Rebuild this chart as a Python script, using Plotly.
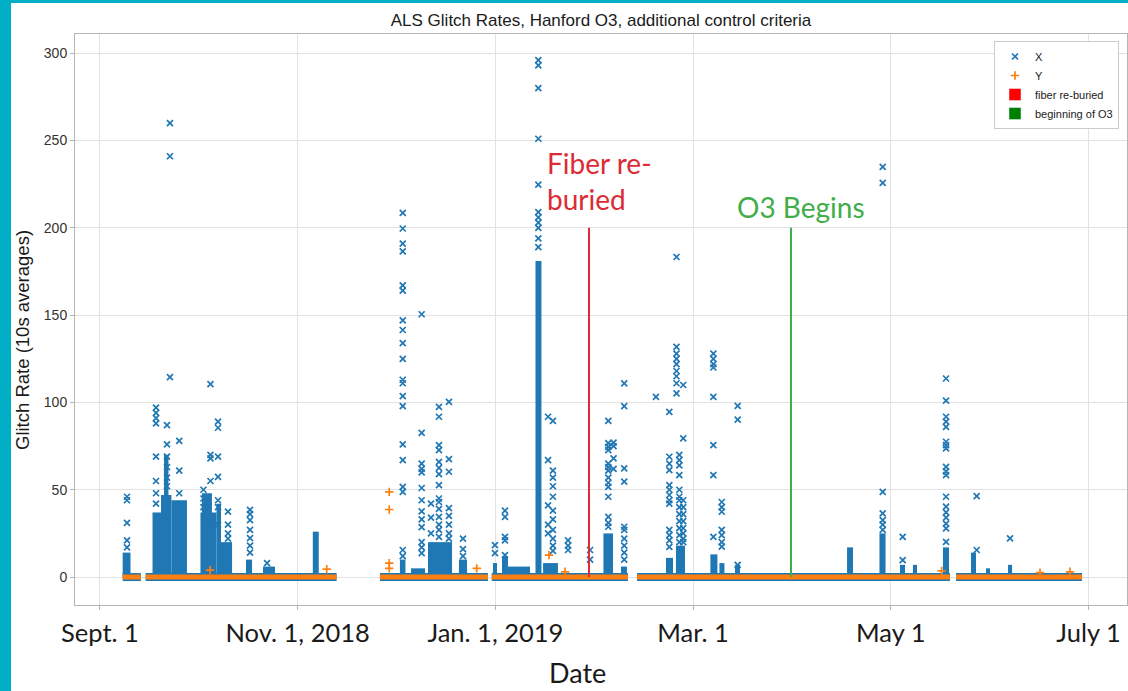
import plotly.graph_objects as go
import pandas as pd

# ---------------- data ----------------
# stretches where both X and Y sit on the ~0 baseline
base_start = ["2018-09-08 00:00", "2018-09-15 02:00", "2018-11-26 09:00",
              "2018-12-30 21:00", "2019-02-13 17:00", "2019-05-23 03:00"]
base_end = ["2018-09-13 15:00", "2018-11-13 00:00", "2018-12-29 17:00",
            "2019-02-10 22:00", "2019-05-21 06:00", "2019-07-01 00:00"]

# stretches where X markers are so dense they form a solid blue column
dense_start = ["2018-09-08 00:00", "2018-09-17 05:00", "2018-09-19 20:00", "2018-09-20 18:00",
               "2018-09-23 01:00", "2018-10-02 00:00", "2018-10-02 11:00", "2018-10-06 23:00",
               "2018-10-08 08:00", "2018-10-16 01:00", "2018-10-21 07:00", "2018-11-05 16:00",
               "2018-12-02 13:00", "2018-12-05 23:00", "2018-12-11 05:00", "2018-12-20 18:00",
               "2018-12-31 06:00", "2019-01-03 01:00", "2019-01-04 21:00", "2019-01-13 09:00",
               "2019-01-15 17:00", "2019-02-03 08:00", "2019-02-08 18:00", "2019-02-22 15:00",
               "2019-02-25 17:00", "2019-03-08 08:00", "2019-03-11 03:00", "2019-03-15 22:00",
               "2019-04-19 12:00", "2019-04-29 12:00", "2019-05-05 20:00", "2019-05-09 20:00",
               "2019-05-19 02:00", "2019-05-27 18:00", "2019-06-01 09:00", "2019-06-08 04:00"]
dense_end = ["2018-09-10 10:00", "2018-09-19 20:00", "2018-09-23 01:00", "2018-09-22 03:00",
             "2018-09-27 20:00", "2018-10-06 23:00", "2018-10-05 13:00", "2018-10-08 08:00",
             "2018-10-11 18:00", "2018-10-17 22:00", "2018-10-25 00:00", "2018-11-07 12:00",
             "2018-12-04 06:00", "2018-12-10 07:00", "2018-12-18 15:00", "2018-12-23 06:00",
             "2019-01-01 12:00", "2019-01-04 21:00", "2019-01-11 16:00", "2019-01-15 05:00",
             "2019-01-20 07:00", "2019-02-06 07:00", "2019-02-10 14:00", "2019-02-24 19:00",
             "2019-02-28 12:00", "2019-03-10 12:00", "2019-03-12 16:00", "2019-03-17 11:00",
             "2019-04-21 08:00", "2019-05-01 09:00", "2019-05-07 09:00", "2019-05-11 02:00",
             "2019-05-20 23:00", "2019-05-29 07:00", "2019-06-02 15:00", "2019-06-09 10:00"]
dense_top = [14, 37, 47, 70, 44, 37, 48, 42, 20, 10, 6, 26,
             10, 5, 20, 10, 8, 12, 6, 181, 8, 25, 6, 11,
             18, 13, 8, 7, 17, 25, 7, 7, 17, 14, 5, 7]

# individual X glitch-rate points, grouped by time stamp
x_col_dates = ["2018-09-09 08:00", "2018-09-18 07:00", "2018-09-21 16:00", "2018-09-22 14:00",
               "2018-09-25 11:00", "2018-10-02 22:00", "2018-10-05 02:00", "2018-10-07 10:00",
               "2018-10-10 12:00", "2018-10-17 07:00", "2018-10-22 13:00",
               "2018-12-03 10:00", "2018-12-09 06:00", "2018-12-12 03:00", "2018-12-14 14:00",
               "2018-12-17 16:00", "2018-12-22 00:00", "2018-12-31 21:00",
               "2019-01-03 23:00", "2019-01-14 06:00", "2019-01-17 06:00", "2019-01-18 18:00",
               "2019-01-23 10:00", "2019-01-30 05:00",
               "2019-02-04 20:00", "2019-02-06 11:00", "2019-02-09 18:00", "2019-02-19 13:00",
               "2019-02-23 16:00", "2019-02-25 21:00", "2019-02-26 18:00", "2019-02-27 23:00",
               "2019-03-09 06:00", "2019-03-11 20:00", "2019-03-16 18:00",
               "2019-04-30 12:00", "2019-05-06 16:00", "2019-05-20 01:00", "2019-05-29 12:00",
               "2019-06-08 19:00"]
x_col_vals = [
    [46, 44, 31, 21, 17],
    [97, 94, 91, 88, 69, 55, 48, 42],
    [87, 76, 69, 63, 57, 52],
    [260, 241, 114.5],
    [78, 61, 48],
    [50, 45, 40],
    [110.5, 70, 68, 55],
    [89, 85.5, 69, 57.4, 44, 40, 30],
    [37.5, 30, 25, 22],
    [38.5, 36, 32.6, 27, 22.3, 18, 14],
    [8],
    [208.6, 199.6, 191, 186.5, 167, 164, 147, 141.5, 134, 125, 113, 111, 103.6, 97.9,
     76, 67, 51.7, 48.8, 15.5, 12],
    [150.5, 82.6, 65, 62, 60, 51, 44, 37.6, 33, 28.6, 20, 17, 13.7],
    [42, 34, 25],
    [97.5, 91.8, 75.6, 72.7, 66, 62.5, 59, 52.7, 45, 43, 39, 34.5, 30, 27, 23],
    [100.3, 67.5, 60.3, 39.5, 35, 30, 25, 22],
    [22, 16, 12],
    [18.3, 13.7],
    [38, 34.5, 23, 21, 12.6],
    [296, 293, 280, 251, 224.7, 209, 206, 203, 200, 194, 189],
    [91.8, 67, 41, 30, 25],
    [89.5, 61, 57, 52, 46, 38, 33, 27, 22, 18, 15],
    [21, 18, 15.5],
    [15.5, 10],
    [89.5, 76.7, 74.5, 72.7, 65, 63, 61, 57, 54, 51.7, 46, 34.5, 31, 28.8],
    [77, 75, 68, 62],
    [110.9, 97.9, 62.2, 54.6, 28.8, 27, 22, 18, 14, 10],
    [103.2],
    [94.6, 68.9, 65, 61.2, 52.7, 50, 47, 44, 42, 27, 24, 21, 17.3],
    [183.3, 131.8, 128, 125, 122, 118, 115, 111, 105.2],
    [70, 67, 64, 58.4, 50, 46, 44, 40, 36, 32, 28, 24, 20],
    [110, 79.4, 44, 40, 36, 32, 28, 25, 22, 20],
    [128, 125, 122, 120, 103.2, 75.6, 58.4, 23],
    [43, 40, 37.4, 27, 24, 20, 17.4],
    [98, 90.2, 7],
    [234.9, 225.7, 48.8, 36.5, 32.6, 30, 27],
    [23, 9.7],
    [113.7, 101, 91.8, 89, 86, 77.5, 75.6, 73.7, 63.1, 60.5, 58.4, 46, 40.3, 37, 34,
     30.6, 27.9, 20.2],
    [46.4, 15.5],
    [22.1],
]

# individual Y points above the baseline
y_pt_dates = ["2018-10-04 23:00", "2018-11-09 23:00", "2018-11-29 06:00", "2018-11-29 06:00",
              "2018-11-29 06:00", "2018-11-29 06:00", "2018-12-26 06:00", "2019-01-17 13:00",
              "2019-01-22 12:00", "2019-05-18 16:00", "2019-06-18 01:00", "2019-06-27 07:00"]
y_pt_vals = [4, 4.5, 48.8, 38.7, 8, 5, 5, 12.6, 3, 3.5, 2.5, 3]

# events
event_dates = ["2019-01-29 21:00", "2019-04-02 05:00"]
event_names = ["fiber re-buried", "beginning of O3"]
event_top = [200, 200]

# axis ticks
tick_dates = ["2018-09-01", "2018-11-01", "2019-01-01", "2019-03-03", "2019-05-03", "2019-07-03"]
tick_text = ["Sept. 1", "Nov. 1, 2018", "Jan. 1, 2019", "Mar. 1", "May 1", "July 1"]
y_ticks = [0, 50, 100, 150, 200, 250, 300]

# ---------------- styles ----------------
BLUE = "#1f77b4"
ORANGE = "#ff7f0e"
LINE_RED = "#dc2b35"
LINE_GREEN = "#3fae49"
PATCH_RED = "#ff0000"
PATCH_GREEN = "#008000"
TEAL = "#00afc6"
CAL = "Lato, Carlito, 'Open Sans', sans-serif"
ARIAL = "'Liberation Sans', Arial, sans-serif"

fig = go.Figure()

# dense columns
ds = pd.to_datetime(dense_start)
de = pd.to_datetime(dense_end)
centers = (ds + (de - ds) / 2).strftime("%Y-%m-%d %H:%M:%S")
widths = [float(v) * 1000.0 for v in (de - ds).total_seconds()]
fig.add_trace(go.Bar(x=list(centers), y=dense_top, width=widths,
                     marker=dict(color=BLUE, line=dict(width=0)),
                     showlegend=False, hoverinfo="skip"))

# individual X markers
xs, ys = [], []
for d, vals in zip(x_col_dates, x_col_vals):
    xs += [d] * len(vals)
    ys += vals
fig.add_trace(go.Scatter(x=xs, y=ys, mode="markers", name="X", legendrank=1,
                         marker=dict(symbol="x-thin", size=6, color=BLUE,
                                     line=dict(width=1.7, color=BLUE))))

# baseline bands
bx, by = [], []
for s, e in zip(base_start, base_end):
    bx += [s, e, None]
    by += [0, 0, None]
fig.add_trace(go.Scatter(x=bx, y=by, mode="lines", line=dict(color=BLUE, width=8),
                         showlegend=False, hoverinfo="skip"))
fig.add_trace(go.Scatter(x=bx, y=by, mode="lines", line=dict(color=ORANGE, width=5),
                         showlegend=False, hoverinfo="skip"))

# individual Y markers
fig.add_trace(go.Scatter(x=y_pt_dates, y=y_pt_vals, mode="markers", name="Y", legendrank=2,
                         marker=dict(symbol="cross-thin", size=6, color=ORANGE,
                                     line=dict(width=1.7, color=ORANGE))))

# event lines
for d, top, col in zip(event_dates, event_top, [LINE_RED, LINE_GREEN]):
    fig.add_trace(go.Scatter(x=[d, d], y=[0, top], mode="lines",
                             line=dict(color=col, width=2),
                             showlegend=False, hoverinfo="skip"))

# legend patches for events
for i, (n, col) in enumerate(zip(event_names, [PATCH_RED, PATCH_GREEN])):
    fig.add_trace(go.Bar(x=[None], y=[None], name=n, marker=dict(color=col),
                         legendrank=3 + i))

fig.update_layout(
    width=1128, height=691,
    margin=dict(l=75, r=1, t=34, b=86),
    paper_bgcolor="white", plot_bgcolor="white",
    barmode="overlay",
    font=dict(family=ARIAL, color="#262626"),
    title=dict(text="ALS Glitch Rates, Hanford O3, additional control criteria",
               x=0.5, xref="paper", xanchor="center",
               y=1 - 20 / 691, yref="container", yanchor="middle",
               font=dict(family=ARIAL, size=17, color="#1a1a1a")),
    legend=dict(x=0.9924, y=0.9877, xanchor="right", yanchor="top",
                bgcolor="white", bordercolor="#cccccc", borderwidth=1,
                font=dict(family=ARIAL, size=11, color="#1a1a1a"),
                tracegroupgap=0),
    shapes=[
        dict(type="rect", xref="paper", yref="paper", x0=-75 / 1052, x1=-64 / 1052,
             y0=-86 / 571, y1=605 / 571, fillcolor=TEAL, line=dict(width=0), layer="above"),
        dict(type="rect", xref="paper", yref="paper", x0=-75 / 1052, x1=1053 / 1052,
             y0=602 / 571, y1=605 / 571, fillcolor=TEAL, line=dict(width=0), layer="above"),
    ],
    annotations=[
        dict(text="Fiber re-<br>buried", xref="paper", yref="paper",
             x=(545 - 75) / 1052, y=(605 - 181) / 571, xanchor="left", yanchor="middle",
             align="left", showarrow=False,
             font=dict(family=CAL, size=28, color=LINE_RED)),
        dict(text="O3 Begins", xref="paper", yref="paper",
             x=(735 - 75) / 1052, y=(605 - 207) / 571, xanchor="left", yanchor="middle",
             showarrow=False, font=dict(family=CAL, size=28, color=LINE_GREEN)),
        dict(text="Date", xref="paper", yref="paper",
             x=(577 - 75) / 1052, y=(605 - 672) / 571, xanchor="center", yanchor="middle",
             showarrow=False, font=dict(family=CAL, size=27, color="#1a1a1a")),
        dict(text="Glitch Rate (10s averages)", xref="paper", yref="paper",
             x=(22 - 75) / 1052, y=(605 - 340) / 571, xanchor="center", yanchor="middle",
             textangle=-90, showarrow=False,
             font=dict(family=ARIAL, size=18.5, color="#1a1a1a")),
    ],
)

fig.update_xaxes(type="date", range=["2018-08-24 07:00", "2019-07-14 21:00"],
                 tickmode="array", tickvals=tick_dates, ticktext=tick_text,
                 showgrid=True, gridcolor="#e2e2e2", gridwidth=1,
                 showline=True, linecolor="#b5b5b5", linewidth=1, mirror=True,
                 ticks="outside", ticklen=4, tickcolor="#b5b5b5",
                 tickfont=dict(family=CAL, size=25.5, color="#1a1a1a"),
                 ticklabelstandoff=1, zeroline=False)
fig.update_yaxes(range=[-16, 311], tickmode="array", tickvals=y_ticks,
                 showgrid=True, gridcolor="#e2e2e2", gridwidth=1,
                 showline=True, linecolor="#b5b5b5", linewidth=1, mirror=True,
                 ticks="outside", ticklen=4, tickcolor="#b5b5b5",
                 tickfont=dict(family=ARIAL, size=14, color="#333333"),
                 zeroline=False)

fig.write_html("out.html")
